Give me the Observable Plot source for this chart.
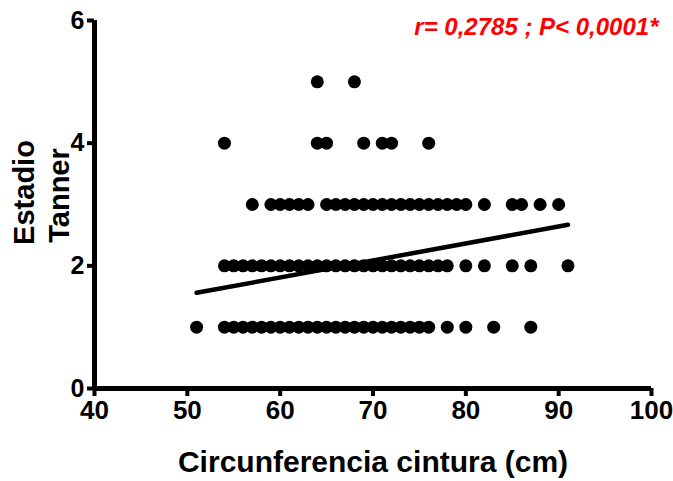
<!DOCTYPE html>
<html>
<head>
<meta charset="utf-8">
<script src="https://cdn.jsdelivr.net/npm/d3@7"></script>
<script src="https://cdn.jsdelivr.net/npm/@observablehq/plot@0.6"></script>
<style>
  html, body { margin: 0; padding: 0; background: #fff; }
  #chart svg { font-family: "Liberation Sans", Arial, sans-serif; font-weight: bold; }
</style>
</head>
<body>
<div id="chart"></div>
<script>
// Waist circumference (cm) values observed at each Tanner stage
const stage1 = [51, 54, 55, 56, 57, 58, 59, 60, 61, 62, 63, 64, 65, 66, 67, 68, 69, 70, 71, 72, 73, 74, 75, 76, 78, 80, 83, 87];
const stage2 = [54, 55, 56, 57, 58, 59, 60, 61, 62, 63, 64, 65, 66, 67, 68, 69, 70, 71, 72, 73, 74, 75, 76, 77, 78, 80, 82, 85, 87, 91];
const stage3 = [57, 59, 60, 61, 62, 63, 65, 66, 67, 68, 69, 70, 71, 72, 73, 74, 75, 76, 77, 78, 79, 80, 82, 85, 86, 88, 90];
const stage4 = [54, 64, 65, 69, 71, 72, 76];
const stage5 = [64, 68];

// Linear regression line as drawn (endpoints)
const fitX = [51, 91];
const fitY = [1.56, 2.67];

const xTicks = [40, 50, 60, 70, 80, 90, 100];
const yTicks = [0, 2, 4, 6];

const xLabel = "Circunferencia cintura (cm)";
const yLabelLine1 = "Estadio";
const yLabelLine2 = "Tanner";
const statsText = "r= 0,2785 ; P< 0,0001*";

const points = [
  ...stage1.map(x => ({x, y: 1})),
  ...stage2.map(x => ({x, y: 2})),
  ...stage3.map(x => ({x, y: 3})),
  ...stage4.map(x => ({x, y: 4})),
  ...stage5.map(x => ({x, y: 5}))
];
const fit = fitX.map((x, i) => ({x, y: fitY[i]}));

const chart = Plot.plot({
  width: 673,
  height: 481,
  marginLeft: 94,
  marginRight: 22,
  marginTop: 20,
  marginBottom: 93,
  style: {fontFamily: '"Liberation Sans", Arial, sans-serif', fontWeight: "bold", color: "#000", background: "#fff"},
  x: {domain: [40, 100]},
  y: {domain: [0, 6]},
  marks: [
    Plot.axisY({ticks: yTicks, tickSize: 7, tickPadding: 3, fontSize: 25, fontWeight: "bold", strokeWidth: 4, label: null, tickFormat: d => String(d)}),
    Plot.axisX({ticks: xTicks, tickSize: 8, tickPadding: 4, fontSize: 26, fontWeight: "bold", strokeWidth: 4, label: null, tickFormat: d => String(d)}),
    Plot.ruleY([0], {stroke: "#000", strokeWidth: 5}),
    Plot.ruleX([40], {stroke: "#000", strokeWidth: 5}),
    Plot.dot(points, {x: "x", y: "y", r: 6.5, fill: "#000", stroke: "none"}),
    Plot.line(fit, {x: "x", y: "y", stroke: "#000", strokeWidth: 4.5}),
    Plot.text([xLabel], {frameAnchor: "bottom", dy: 83, lineAnchor: "bottom", fontSize: 30, fontWeight: "bold", fill: "#000"}),
    Plot.text([yLabelLine1], {frameAnchor: "left", textAnchor: "middle", dx: -70, dy: -12, rotate: -90, fontSize: 29, fontWeight: "bold", fill: "#000"}),
    Plot.text([yLabelLine2], {frameAnchor: "left", textAnchor: "middle", dx: -35, dy: -9, rotate: -90, fontSize: 29, fontWeight: "bold", fill: "#000"}),
    Plot.text([statsText], {frameAnchor: "top-right", dx: 7, dy: -3, lineAnchor: "top", textAnchor: "end", fontSize: 24, fontWeight: "bold", fontStyle: "italic", fill: "#ff0000"})
  ]
});
document.getElementById("chart").appendChild(chart);
</script>
</body>
</html>
